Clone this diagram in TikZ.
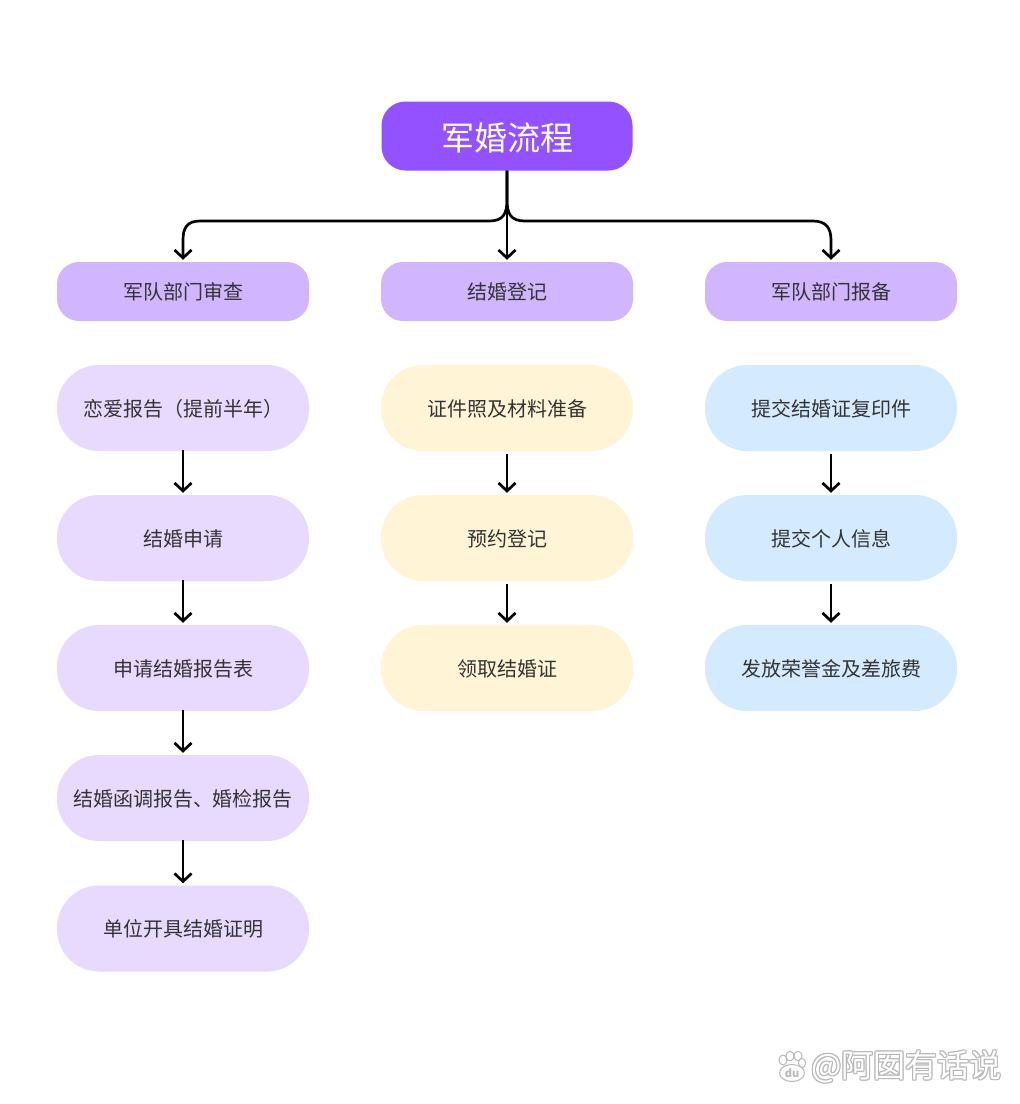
\documentclass[tikz,border=0pt]{standalone}
\usepackage{fontspec}
\setmainfont{Noto Sans CJK SC}
\usetikzlibrary{arrows.meta,positioning}
\definecolor{titlec}{HTML}{9351FF}
\definecolor{headc}{HTML}{D1B6FF}
\definecolor{purplec}{HTML}{E8DAFF}
\definecolor{yellowc}{HTML}{FFF5D6}
\definecolor{bluec}{HTML}{D4EAFF}
\definecolor{inkc}{HTML}{333333}
\definecolor{wmc}{HTML}{B8B8B8}
\tikzset{
  titlebox/.style={fill=titlec,text=white,rounded corners=24pt,minimum width=251pt,minimum height=69pt,inner sep=0pt,text height=31pt,text depth=3pt,font=\fontsize{33}{36}\selectfont},
  headbox/.style={fill=headc,text=inkc,rounded corners=22pt,minimum width=252pt,minimum height=59pt,inner sep=0pt,text height=18pt,text depth=2pt,font=\fontsize{20}{24}\selectfont},
  pill/.style={text=inkc,rounded corners=42pt,minimum width=252pt,minimum height=86pt,inner sep=0pt,text height=18pt,text depth=2pt,font=\fontsize{20}{24}\selectfont},
  purplebox/.style={pill,fill=purplec},
  yellowbox/.style={pill,fill=yellowc},
  bluebox/.style={pill,fill=bluec},
  arr/.style={draw=black,line width=2.7pt,-{Straight Barb[length=8pt,width=17pt,line width=2.7pt]},shorten >=2pt},
  wmfont/.style={font=\fontsize{32}{34}\selectfont,inner sep=0pt,anchor=west},
}
\begin{document}
\begin{tikzpicture}[x=1pt,y=-1pt]
\useasboundingbox[fill=white] (0,0) rectangle (1020,1104);
\node[titlebox] (t) at (507,136) {军婚流程};
\node[headbox] (h1) at (183,291.5) {军队部门审查};
\node[headbox] (h2) at (507,291.5) {结婚登记};
\node[headbox] (h3) at (831,291.5) {军队部门报备};

\node[purplebox] (a1) at (183,408) {恋爱报告（提前半年）};
\node[purplebox] (a2) at (183,538) {结婚申请};
\node[purplebox] (a3) at (183,668) {申请结婚报告表};
\node[purplebox] (a4) at (183,798) {结婚函调报告、婚检报告};
\node[purplebox] (a5) at (183,928.5) {单位开具结婚证明};

\node[yellowbox] (b1) at (507,408) {证件照及材料准备};
\node[yellowbox] (b2) at (507,538) {预约登记};
\node[yellowbox] (b3) at (507,668) {领取结婚证};

\node[bluebox] (c1) at (831,408) {提交结婚证复印件};
\node[bluebox] (c2) at (831,538) {提交个人信息};
\node[bluebox] (c3) at (831,668) {发放荣誉金及差旅费};

\coordinate (j) at (507,200);
\draw[arr] (t.south) -- (j) .. controls (507,214) and (503,221) .. (489,221) -- (200,221) .. controls (187,221) and (183,228) .. (183,240) -- (h1.north);
\draw[arr] (t.south) -- (h2.north);
\draw[arr] (t.south) -- (j) .. controls (507,214) and (511,221) .. (525,221) -- (813,221) .. controls (826,221) and (831,228) .. (831,240) -- (h3.north);

\draw[arr,shorten <=-1pt] (a1) -- (a2);
\draw[arr,shorten <=-1pt] (a2) -- (a3);
\draw[arr,shorten <=-1pt] (a3) -- (a4);
\draw[arr,shorten <=-1pt] (a4) -- (a5);
\draw[arr,shorten <=3pt] (b1.south) -- (b2.north);
\draw[arr,shorten <=3pt] (b2.south) -- (b3.north);
\draw[arr,shorten <=3pt] (c1.south) -- (c2.north);
\draw[arr,shorten <=3pt] (c2.south) -- (c3.north);

% watermark: paw icon
\begin{scope}[draw=wmc,fill=white,line width=1pt]
\draw[fill=white] (783,1060) ellipse (4pt and 5pt);
\draw[fill=white] (790,1056) ellipse (4pt and 4.8pt);
\draw[fill=white] (798,1056) ellipse (4pt and 4.8pt);
\draw[fill=white] (802,1063) ellipse (3.6pt and 4.6pt);
\draw[fill=white] (792,1073) ellipse (12.5pt and 8.5pt);
\end{scope}
\node[text=wmc,font=\fontsize{11}{12}\selectfont\bfseries,inner sep=0pt] (wmdu) at (792,1073) {du};
% watermark: outlined text
\foreach \dx/\dy in {-1/0,1/0,0/-1,0/1,-0.8/-0.8,0.8/-0.8,-0.8/0.8,0.8/0.8}{
  \node[wmfont,text=wmc] at (811+\dx,1067+\dy) {@阿囡有话说};
}
\node[wmfont,text=white] (wm) at (811,1067) {@阿囡有话说};
\end{tikzpicture}
\end{document}
